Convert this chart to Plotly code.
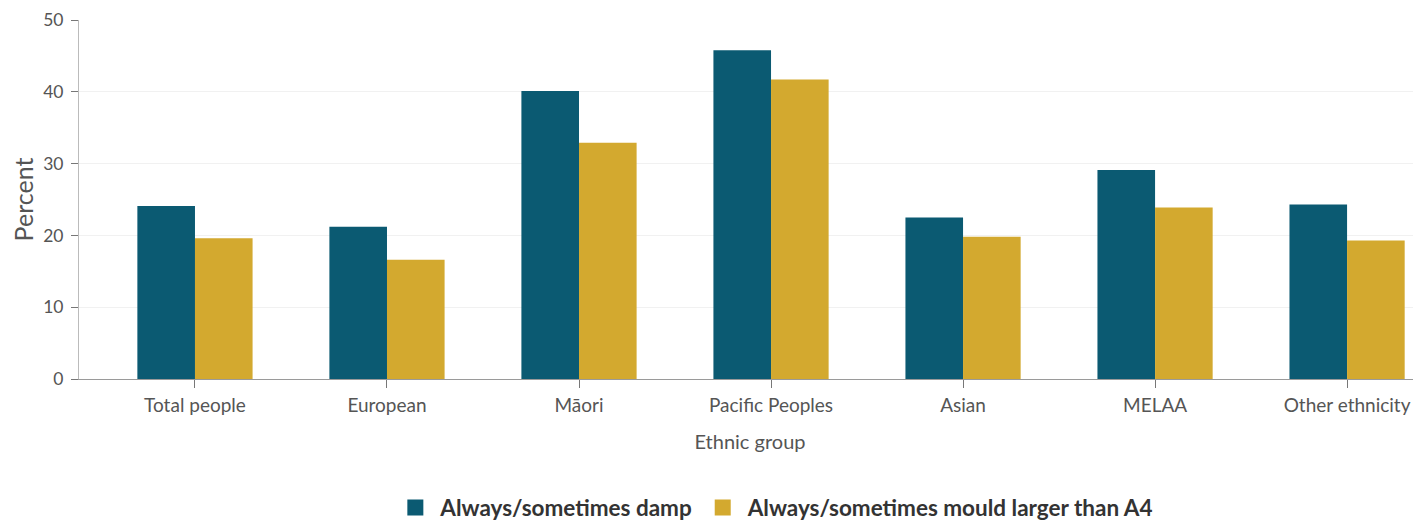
import plotly.graph_objects as go

categories = ["Total people", "European", "Māori", "Pacific Peoples", "Asian", "MELAA", "Other ethnicity"]
damp = [24.1, 21.2, 40.1, 45.8, 22.5, 29.1, 24.3]
mould = [19.6, 16.6, 32.9, 41.7, 19.8, 23.9, 19.3]
series_names = ["Always/sometimes damp", "Always/sometimes mould larger than A4"]
series_colors = ["#0b5a72", "#d3a92f"]
y_ticks = [0, 10, 20, 30, 40, 50]

fig = go.Figure()
fig.add_trace(go.Bar(x=categories, y=damp, name=series_names[0], marker_color=series_colors[0],
                     marker_line_width=0, showlegend=False))
fig.add_trace(go.Bar(x=categories, y=mould, name=series_names[1], marker_color=series_colors[1],
                     marker_line_width=0, showlegend=False))
# legend entries with larger square swatches
for name, col in zip(series_names, series_colors):
    fig.add_trace(go.Scatter(x=[None], y=[None], mode="markers", name=name,
                             marker=dict(symbol="square", size=18, color=col), showlegend=True))

fig.update_layout(
    width=1413, height=522,
    margin=dict(l=71, r=0, t=12, b=151),
    paper_bgcolor="white", plot_bgcolor="white",
    font=dict(family="Lato, sans-serif", color="#555555"),
    barmode="group", bargap=0.4, bargroupgap=0,
    showlegend=True,
    legend=dict(orientation="h", x=0.232, xanchor="left", y=-0.359, yanchor="middle",
                font=dict(size=22.5, color="#333333", family="Lato, sans-serif", weight="bold"),
                traceorder="normal", itemwidth=40),
)
fig.update_xaxes(
    range=[-0.604, 6.385], automargin=False,
    showline=True, linecolor="#9a9a9a", linewidth=1,
    ticks="outside", ticklen=8, tickcolor="#777777",
    tickfont=dict(size=19, color="#555555"), ticklabelstandoff=1,
    title=dict(text="Ethnic group", font=dict(size=20, color="#555555"), standoff=20),
    showgrid=False,
)
fig.update_yaxes(
    range=[0, 50], tickvals=y_ticks, automargin=False,
    showline=True, linecolor="#bbbbbb", linewidth=1,
    ticks="outside", ticklen=7, tickcolor="#777777",
    tickfont=dict(size=17.5, color="#555555"), ticklabelstandoff=4,
    ticklabeloverflow="allow",
    showgrid=True, gridcolor="#f1f1f1", gridwidth=1,
    zeroline=False,
    title=dict(text="Percent", font=dict(size=25, color="#555555"), standoff=8),
)

fig.write_html("out.html")
